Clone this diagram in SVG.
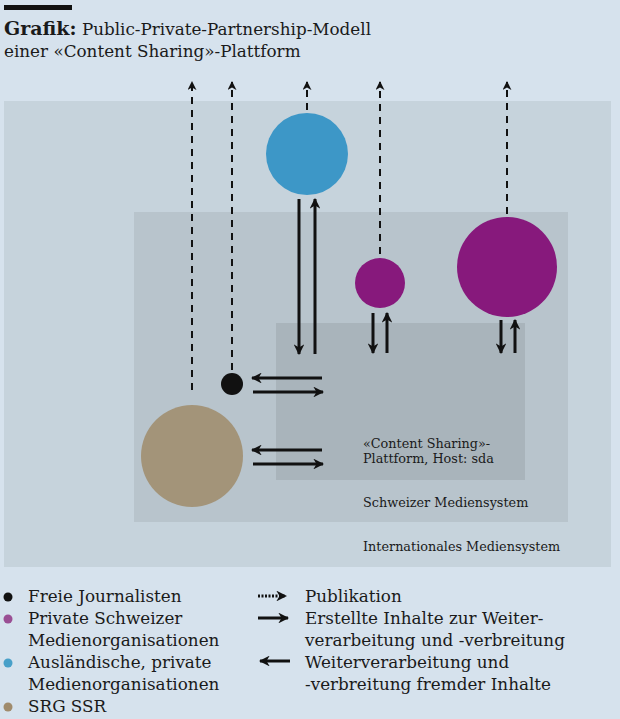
<svg xmlns="http://www.w3.org/2000/svg" width="620" height="719" viewBox="0 0 620 719">
<defs>
<style>
.t{font-family:"DejaVu Serif","Liberation Serif",serif;fill:#1a1a1a}
.lab{font-size:12.8px}
.leg{font-size:16.8px}
.dash{stroke:#111;stroke-width:2;stroke-dasharray:7,6;fill:none}
.sol{stroke:#111;stroke-width:3;fill:none}
</style>
<marker id="ah" viewBox="0 0 10 10" refX="9" refY="5" markerWidth="4.5" markerHeight="4.5" orient="auto"><path d="M0,0 L10,5 L0,10 L3,5 z" fill="#111"/></marker>
<marker id="ahs" viewBox="0 0 10 10" refX="9" refY="5" markerWidth="3.6" markerHeight="3.6" orient="auto"><path d="M0,0 L10,5 L0,10 L3,5 z" fill="#111"/></marker>
</defs>
<rect width="620" height="719" fill="#d6e2ed"/>
<rect x="4" y="5" width="68" height="5" fill="#111"/>
<text class="t" x="4" y="35" font-size="16.8"><tspan font-weight="bold" font-size="19">Grafik:</tspan> Public-Private-Partnership-Modell</text>
<text class="t" x="4" y="57" font-size="16.8">einer «Content Sharing»-Plattform</text>

<g id="international"><rect x="4" y="101" width="607" height="466" fill="#c6d3dc"/><text class="t lab" x="363" y="551">Internationales Mediensystem</text></g>
<g id="schweiz"><rect x="134" y="212" width="434" height="310" fill="#b8c4cc"/><text class="t lab" x="363" y="507">Schweizer Mediensystem</text></g>
<g id="plattform"><rect x="276" y="323" width="249" height="157" fill="#a9b4bb"/><text class="t lab" x="363" y="448">«Content Sharing»-</text><text class="t lab" x="363" y="463">Plattform, Host: sda</text></g>

<g id="connectors">
<line class="dash" x1="192" y1="390" x2="192" y2="82" marker-end="url(#ah)"/>
<line class="dash" x1="232" y1="370" x2="232" y2="82" marker-end="url(#ah)"/>
<line class="dash" x1="307" y1="110" x2="307" y2="82" marker-end="url(#ah)"/>
<line class="dash" x1="380" y1="254" x2="380" y2="82" marker-end="url(#ah)"/>
<line class="dash" x1="507" y1="214" x2="507" y2="82" marker-end="url(#ah)"/>
<line class="sol" x1="299" y1="199" x2="299" y2="354" marker-end="url(#ahs)"/>
<line class="sol" x1="315" y1="354" x2="315" y2="199" marker-end="url(#ahs)"/>
<line class="sol" x1="373" y1="313" x2="373" y2="353" marker-end="url(#ahs)"/>
<line class="sol" x1="387" y1="353" x2="387" y2="313" marker-end="url(#ahs)"/>
<line class="sol" x1="501" y1="320" x2="501" y2="353" marker-end="url(#ahs)"/>
<line class="sol" x1="515" y1="353" x2="515" y2="320" marker-end="url(#ahs)"/>
<line class="sol" x1="322" y1="378" x2="252" y2="378" marker-end="url(#ahs)"/>
<line class="sol" x1="253" y1="392" x2="323" y2="392" marker-end="url(#ahs)"/>
<line class="sol" x1="322" y1="450" x2="252" y2="450" marker-end="url(#ahs)"/>
<line class="sol" x1="253" y1="464" x2="323" y2="464" marker-end="url(#ahs)"/>
</g>

<g id="auslaendisch"><circle cx="307" cy="154" r="41" fill="#3d97c7"/></g>
<g id="privat-klein"><circle cx="380" cy="283" r="25" fill="#87197c"/></g>
<g id="privat-gross"><circle cx="507" cy="267" r="50" fill="#87197c"/></g>
<g id="freie"><circle cx="232" cy="384" r="11" fill="#111"/></g>
<g id="srg"><circle cx="192" cy="456" r="51" fill="#a39479"/></g>

<g id="legend">
<circle cx="8" cy="597" r="4.5" fill="#111"/>
<circle cx="8" cy="619" r="4.5" fill="#9a4f94"/>
<circle cx="8" cy="663" r="4.5" fill="#48a0c9"/>
<circle cx="8" cy="707" r="4.5" fill="#a08b6c"/>
<text class="t leg" x="28" y="602">Freie Journalisten</text>
<text class="t leg" x="28" y="624">Private Schweizer</text>
<text class="t leg" x="28" y="646">Medienorganisationen</text>
<text class="t leg" x="28" y="668">Ausländische, private</text>
<text class="t leg" x="28" y="690">Medienorganisationen</text>
<text class="t leg" x="28" y="712">SRG SSR</text>
<line x1="258" y1="596" x2="286" y2="596" stroke="#111" stroke-width="3" stroke-dasharray="2,1.5" marker-end="url(#ahs)"/>
<line x1="258" y1="618" x2="288" y2="618" stroke="#111" stroke-width="3" marker-end="url(#ahs)"/>
<line x1="290" y1="661" x2="260" y2="661" stroke="#111" stroke-width="3" marker-end="url(#ahs)"/>
<text class="t leg" x="305" y="602">Publikation</text>
<text class="t leg" x="305" y="624">Erstellte Inhalte zur Weiter-</text>
<text class="t leg" x="305" y="646">verarbeitung und -verbreitung</text>
<text class="t leg" x="305" y="668">Weiterverarbeitung und</text>
<text class="t leg" x="305" y="690">-verbreitung fremder Inhalte</text>
</g>
</svg>
